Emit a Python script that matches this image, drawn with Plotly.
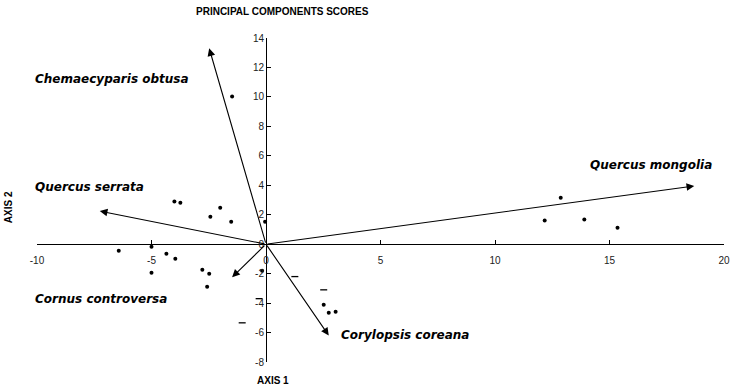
import plotly.graph_objects as go

# Site scores on the first two principal components
score_x = [-4.0, -3.74, -2.0, -2.43, -1.52, -0.04, -6.43, -5.0, -4.35, -3.96,
           -5.0, -2.78, -2.48, -2.57, -0.17, -1.48, 12.87, 12.17, 13.9, 15.35,
           2.52, 2.74, 3.04]
score_y = [2.89, 2.82, 2.48, 1.87, 1.53, 1.53, -0.44, -0.17, -0.65, -0.99,
           -1.94, -1.73, -2.0, -2.89, -1.8, 10.03, 3.16, 1.6, 1.67, 1.12,
           -4.12, -4.66, -4.59]

# Scores printed as short dashes
dash_x = [1.26, 2.52, -1.04, -0.3]
dash_y = [-2.2, -3.1, -5.34, -3.7]

# Species loading vectors
species = ["Chemaecyparis obtusa", "Quercus serrata", "Quercus mongolia",
           "Cornus controversa", "Corylopsis coreana"]
vec_x = [-2.48, -7.26, 18.7, -1.48, 2.74]
vec_y = [13.3, 2.25, 3.95, -2.24, -6.2]
# Label anchors (left edge, vertical middle) in axis units
label_x = [-10.17, -10.17, 14.04, -10.17, 3.17]
label_y = [11.2, 3.9, 5.4, -3.7, -6.2]

x_ticks = [-10, -5, 0, 5, 10, 15, 20]
y_ticks = [-8, -6, -4, -2, 0, 2, 4, 6, 8, 10, 12, 14]

X_RANGE = [-10, 20]
Y_RANGE = [-8, 14]

W, H = 742, 390
ml, mr, mt, mb = 37, 15, 38, 28
pw, ph = W - ml - mr, H - mt - mb


def px_to_paper(px, py):
    return (px - ml) / pw, (H - mb - py) / ph


def data_to_paper(x, y):
    return ((x - X_RANGE[0]) / (X_RANGE[1] - X_RANGE[0]),
            (y - Y_RANGE[0]) / (Y_RANGE[1] - Y_RANGE[0]))


fig = go.Figure()
fig.add_trace(go.Scatter(x=score_x, y=score_y, mode="markers",
                         marker=dict(color="black", size=4, symbol="circle"),
                         showlegend=False, hoverinfo="skip"))
fig.add_trace(go.Scatter(x=dash_x, y=dash_y, mode="markers",
                         marker=dict(color="black", size=5, symbol="line-ew",
                                     line=dict(color="black", width=1.3)),
                         showlegend=False, hoverinfo="skip"))

label_font = dict(family="DejaVu Sans", size=12, color="black",
                  style="italic", weight="bold")
for name, vx, vy, lx, ly in zip(species, vec_x, vec_y, label_x, label_y):
    fig.add_annotation(x=vx, y=vy, ax=0, ay=0, xref="x", yref="y",
                       axref="x", ayref="y", text="", showarrow=True,
                       arrowhead=2, arrowsize=1.4, arrowwidth=1.1,
                       arrowcolor="black", standoff=0, startstandoff=0)
    px_, py_ = data_to_paper(lx, ly)
    fig.add_annotation(x=px_, y=py_, xref="paper", yref="paper", text=name,
                       showarrow=False, xanchor="left", yanchor="middle",
                       font=label_font)

tx, ty = px_to_paper(284, 11)
fig.add_annotation(x=tx, y=ty, xref="paper", yref="paper",
                   text="PRINCIPAL COMPONENTS SCORES", showarrow=False,
                   xanchor="center", yanchor="middle",
                   font=dict(family="Liberation Sans", size=10,
                             color="black", weight="bold"))
ax1x, ax1y = px_to_paper(274, 380)
ax2x, ax2y = px_to_paper(8, 207)
fig.add_annotation(x=ax1x, y=ax1y, xref="paper", yref="paper", text="AXIS 1",
                   showarrow=False, xanchor="center", yanchor="middle",
                   font=dict(family="Liberation Sans", size=10, color="black",
                             weight="bold"))
fig.add_annotation(x=ax2x, y=ax2y, xref="paper", yref="paper", text="AXIS 2",
                   showarrow=False, textangle=-90, xanchor="center",
                   yanchor="middle",
                   font=dict(family="Liberation Sans", size=10, color="black",
                             weight="bold"))

tick_font = dict(family="Liberation Sans", size=10, color="#222222")
fig.update_xaxes(range=X_RANGE, tickvals=x_ticks, ticktext=[str(v) for v in x_ticks],
                 showgrid=False, zeroline=False, showline=True, linecolor="black",
                 linewidth=1, ticks="inside", ticklen=4, tickcolor="black",
                 anchor="free", position=8 / 22, tickfont=tick_font,
                 ticklabelstandoff=7)
fig.update_yaxes(range=Y_RANGE, tickvals=y_ticks, ticktext=[str(v) for v in y_ticks],
                 showgrid=False, zeroline=False, showline=True, linecolor="black",
                 linewidth=1, ticks="inside", ticklen=4, tickcolor="black",
                 anchor="free", position=10 / 30, tickfont=tick_font)

fig.update_layout(width=W, height=H, margin=dict(l=ml, r=mr, t=mt, b=mb),
                  plot_bgcolor="white", paper_bgcolor="white")

fig.write_html("out.html")
